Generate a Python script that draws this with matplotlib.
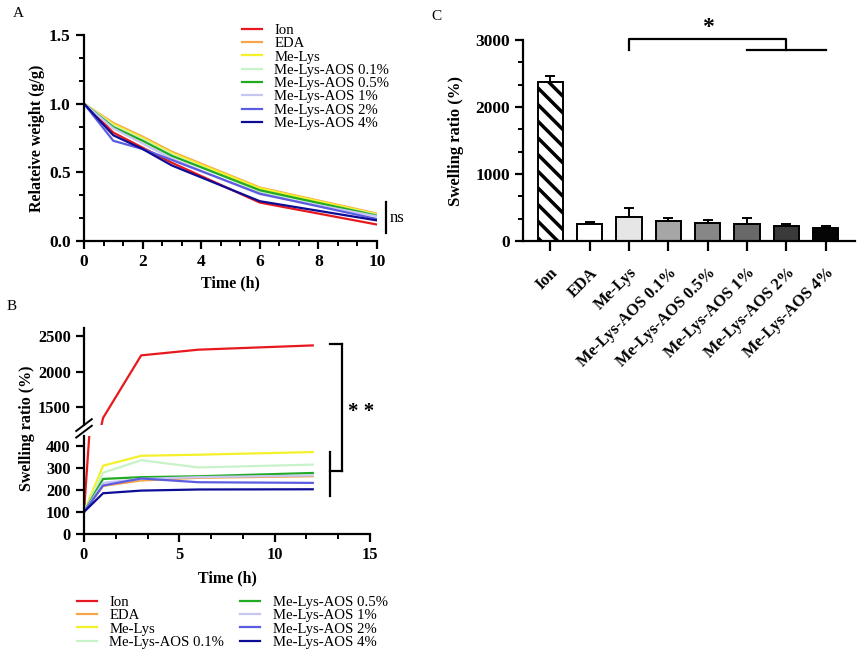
import numpy as np
import matplotlib
matplotlib.use("Agg")
import matplotlib.pyplot as plt
from matplotlib.ticker import AutoMinorLocator, FormatStrFormatter
from matplotlib.lines import Line2D

plt.rcParams['font.family'] = ['Liberation Serif', 'DejaVu Serif']
plt.rcParams['hatch.linewidth'] = 2.5
plt.rcParams['axes.linewidth'] = 1.6

# ---------------- data ----------------
groups = ['Ion', 'EDA', 'Me-Lys', 'Me-Lys-AOS 0.1%', 'Me-Lys-AOS 0.5%',
          'Me-Lys-AOS 1%', 'Me-Lys-AOS 2%', 'Me-Lys-AOS 4%']
line_colors = ['#e8191e', '#f5a54a', '#f4f02a', '#c8f2c8', '#22aa22',
               '#c6c6f2', '#5c5ce0', '#0c0c96']

# panel A: relative weight (g/g)
times_a = [0, 1, 2, 3, 6, 10]
weight_ion = [1.0, 0.79, 0.68, 0.57, 0.28, 0.12]
weight_eda = [1.0, 0.86, 0.76, 0.65, 0.39, 0.20]
weight_melys = [1.0, 0.85, 0.75, 0.64, 0.385, 0.195]
weight_aos01 = [1.0, 0.84, 0.74, 0.63, 0.36, 0.19]
weight_aos05 = [1.0, 0.83, 0.73, 0.62, 0.37, 0.185]
weight_aos1 = [1.0, 0.82, 0.71, 0.60, 0.34, 0.18]
weight_aos2 = [1.0, 0.73, 0.67, 0.59, 0.345, 0.16]
weight_aos4 = [1.0, 0.77, 0.67, 0.55, 0.29, 0.15]
weights = [weight_ion, weight_eda, weight_melys, weight_aos01,
           weight_aos05, weight_aos1, weight_aos2, weight_aos4]

# panel B: swelling ratio (%) over time
times_b = [0, 1, 3, 6, 12]
swell_ion = [100, 1350, 2230, 2310, 2370]
swell_eda = [100, 218, 243, 255, 262]
swell_melys = [100, 310, 355, 360, 372]
swell_aos01 = [100, 278, 335, 302, 315]
swell_aos05 = [100, 250, 258, 262, 277]
swell_aos1 = [100, 232, 250, 258, 266]
swell_aos2 = [100, 220, 252, 235, 232]
swell_aos4 = [100, 185, 197, 202, 203]
swells = [swell_ion, swell_eda, swell_melys, swell_aos01,
          swell_aos05, swell_aos1, swell_aos2, swell_aos4]

# panel C: final swelling ratio (%)
final_mean = [2375, 255, 365, 305, 265, 250, 225, 195]
final_err = [85, 25, 135, 35, 50, 90, 35, 25]
bar_colors = ['white', 'white', '#e6e6e6', '#a6a6a6', '#878787',
              '#696969', '#3a3a3a', '#050505']

fig = plt.figure(figsize=(8.65, 6.56), dpi=100)


def style_ax(ax, size):
    for s in ['top', 'right']:
        ax.spines[s].set_visible(False)
    ax.tick_params(which='major', direction='out', length=6, width=1.6,
                   labelsize=size)
    ax.tick_params(which='minor', direction='out', length=3.5, width=1.4)
    for lab in ax.get_xticklabels() + ax.get_yticklabels():
        lab.set_fontweight('bold')


# ==========================================
# Panel A
# ==========================================
axA = fig.add_axes([0.0971, 0.6326, 0.3387, 0.314])
for y, c, g in zip(weights, line_colors, groups):
    axA.plot(times_a, y, color=c, lw=1.6, label=g)
axA.set_xlim(0, 10)
axA.set_ylim(0, 1.5)
axA.set_xticks([0, 2, 4, 6, 8, 10])
axA.set_yticks([0, 0.5, 1.0, 1.5])
axA.yaxis.set_major_formatter(FormatStrFormatter('%.1f'))
axA.xaxis.set_minor_locator(AutoMinorLocator(3))
axA.yaxis.set_minor_locator(AutoMinorLocator(3))
style_ax(axA, 12.5)
axA.set_xlabel('Time (h)', fontsize=11.5, fontweight='bold', labelpad=4)
axA.set_ylabel('Relateive weight (g/g)', fontsize=11.5, fontweight='bold',
               labelpad=3)
axA.legend(loc='upper left', bbox_to_anchor=(0.2798, 0.964),
           bbox_transform=fig.transFigure, frameon=False, fontsize=10.6,
           handlelength=1.35, handletextpad=0.85, labelspacing=0.0,
           borderpad=0, borderaxespad=0)
axA.plot([10.3, 10.3], [0.06, 0.285], color='black', lw=1.6, clip_on=False)
axA.text(10.45, 0.165, 'ns', fontsize=12, va='center', ha='left')

# ==========================================
# Panel B (broken y axis)
# ==========================================
axB_lo = fig.add_axes([0.0971, 0.186, 0.3306, 0.1494])
axB_hi = fig.add_axes([0.0971, 0.3521, 0.3306, 0.1479], sharex=axB_lo)
for ax in (axB_lo, axB_hi):
    for y, c, g in zip(swells, line_colors, groups):
        ax.plot(times_b, y, color=c, lw=1.6, label=g)
axB_lo.set_xlim(0, 15)
axB_lo.set_ylim(0, 445)
axB_hi.set_ylim(1250, 2615)
axB_lo.set_xticks([0, 5, 10, 15])
axB_lo.xaxis.set_minor_locator(AutoMinorLocator(3))
axB_lo.set_yticks([0, 100, 200, 300, 400])
axB_hi.set_yticks([1500, 2000, 2500])
style_ax(axB_lo, 11.8)
style_ax(axB_hi, 11.8)
axB_hi.spines['bottom'].set_visible(False)
axB_hi.tick_params(axis='x', which='both', bottom=False, labelbottom=False)
axB_lo.set_xlabel('Time (h)', fontsize=11.5, fontweight='bold', labelpad=5)
fig.text(0.031, 0.3476, 'Swelling ratio (%)', rotation=90, fontsize=11.5,
         fontweight='bold', ha='center', va='center')

# break marks on the y axis
bx = 84 / 865
for yb in (0.342, 0.352):
    fig.add_artist(Line2D([bx - 0.009, bx + 0.009], [yb - 0.009, yb + 0.009],
                          color='black', lw=1.4, transform=fig.transFigure))

# significance bracket
xa, xb = 0.3815, 0.3954
for xs, ys in [([xa, xb], [0.4756, 0.4756]), ([xb, xb], [0.4756, 0.282]),
               ([xa, xb], [0.282, 0.282]), ([xa, xa], [0.311, 0.2439])]:
    fig.add_artist(Line2D(xs, ys, color='black', lw=1.6,
                          transform=fig.transFigure))
fig.text(0.418, 0.372, '* *', fontsize=15, fontweight='bold',
         ha='center', va='center')

h, l = axB_lo.get_legend_handles_labels()
fig.legend(h, l, loc='upper left', bbox_to_anchor=(0.089, 0.092),
           ncol=2, frameon=False, fontsize=10.6, handlelength=1.35,
           handletextpad=0.85, labelspacing=0.0, columnspacing=1.1,
           borderpad=0, borderaxespad=0)

# ==========================================
# Panel C
# ==========================================
axC = fig.add_axes([0.6046, 0.6326, 0.3838, 0.3064])
xpos = np.arange(len(groups))
bars = axC.bar(xpos, final_mean, width=0.64, color=bar_colors,
               edgecolor='black', linewidth=1.4, zorder=2)
bars[0].set_hatch('\\\\')
axC.errorbar(xpos, final_mean, yerr=[np.zeros(len(final_err)), final_err],
             fmt='none', ecolor='black', elinewidth=1.4, capsize=3.3,
             capthick=1.4, zorder=1)
axC.set_xlim(-0.69, 7.74)
axC.set_ylim(0, 3000)
axC.set_yticks([0, 1000, 2000, 3000])
axC.yaxis.set_minor_locator(AutoMinorLocator(3))
axC.set_xticks(xpos)
axC.set_xticklabels(groups)
style_ax(axC, 12.5)
axC.tick_params(axis='x', length=7, pad=10)
for lab in axC.get_xticklabels():
    lab.set_rotation(45)
    lab.set_ha('right')
    lab.set_rotation_mode('anchor')
    lab.set_fontsize(11.8)
axC.set_ylabel('Swelling ratio (%)', fontsize=12, fontweight='bold',
               labelpad=8)

# significance bracket
bk = dict(color='black', lw=1.6, clip_on=False)
axC.plot([2, 2, 6, 6], [2850, 3020, 3020, 2850], **bk)
axC.plot([5, 7], [2850, 2850], **bk)
axC.text(4, 3180, '*', fontsize=17, fontweight='bold', ha='center',
         va='center')

# panel letters
fig.text(0.0208, 0.9787, 'A', fontsize=11, ha='center', va='center')
fig.text(0.0139, 0.5335, 'B', fontsize=11, ha='center', va='center')
fig.text(0.505, 0.9756, 'C', fontsize=11, ha='center', va='center')

fig.savefig('out.png', dpi=100)
